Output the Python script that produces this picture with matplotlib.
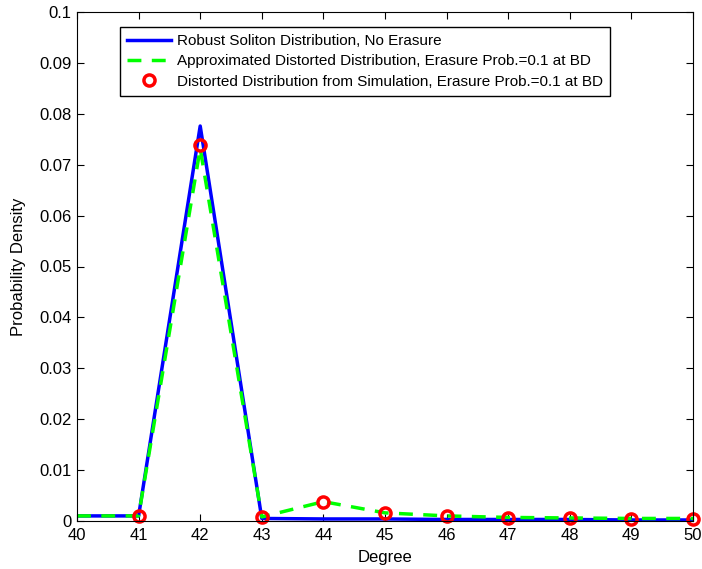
import numpy as np
import matplotlib.pyplot as plt

plt.rcParams['font.family'] = ['Liberation Sans', 'DejaVu Sans']
plt.rcParams['font.size'] = 10

# Data
degree = [40, 41, 42, 43, 44, 45, 46, 47, 48, 49, 50]
robust = [0.0010, 0.0010, 0.0776, 0.0005, 0.0004, 0.0004, 0.0003, 0.0003, 0.0003, 0.0002, 0.0002]
approx = [0.0010, 0.0010, 0.0732, 0.0008, 0.0038, 0.0016, 0.0010, 0.0007, 0.0006, 0.0005, 0.0005]
sim_degree = [41, 42, 43, 44, 45, 46, 47, 48, 49, 50]
sim = [0.0010, 0.0738, 0.0007, 0.0037, 0.0015, 0.0009, 0.0006, 0.0005, 0.0004, 0.0004]

fig = plt.figure(figsize=(7.02, 5.69), dpi=100)
ax = fig.add_axes([77 / 702, 1 - 521 / 569, 616 / 702, 509 / 569])

ax.plot(degree, robust, '-', color='#0000ff', lw=2.5,
        label='Robust Soliton Distribution, No Erasure')
ax.plot(degree, approx, '--', color='#00ff00', lw=2.5, dashes=(4, 3),
        label='Approximated Distorted Distribution, Erasure Prob.=0.1 at BD')
ax.plot(sim_degree, sim, 'o', color='red', mfc='none', mew=2.5, ms=8,
        clip_on=False,
        label='Distorted Distribution from Simulation, Erasure Prob.=0.1 at BD')

ax.set_xlim(40, 50)
ax.set_ylim(0, 0.1)
ax.set_xticks(range(40, 51))
ax.set_yticks(np.arange(0, 0.101, 0.01))
ax.set_yticklabels(['0'] + ['%.2f' % v for v in np.arange(0.01, 0.091, 0.01)] + ['0.1'])
ax.tick_params(direction='in', top=True, right=True, labelsize=12, length=5)
ax.tick_params(axis='x', pad=5)
ax.tick_params(axis='y', pad=4)
ax.set_xlabel('Degree', fontsize=12)
ax.set_ylabel('Probability Density', fontsize=12)
ax.xaxis.set_label_coords(0.5, -0.057)
ax.yaxis.set_label_coords(-0.082, 0.5)

leg = ax.legend(loc='upper right', bbox_to_anchor=(0.8653, 0.9705), fontsize=11,
                fancybox=False, edgecolor='black', framealpha=1, numpoints=1,
                handlelength=2.9, borderpad=0.45, labelspacing=0.42,
                handletextpad=0.4, borderaxespad=0)
leg.get_frame().set_linewidth(1.0)

fig.savefig('out.png', dpi=100)
